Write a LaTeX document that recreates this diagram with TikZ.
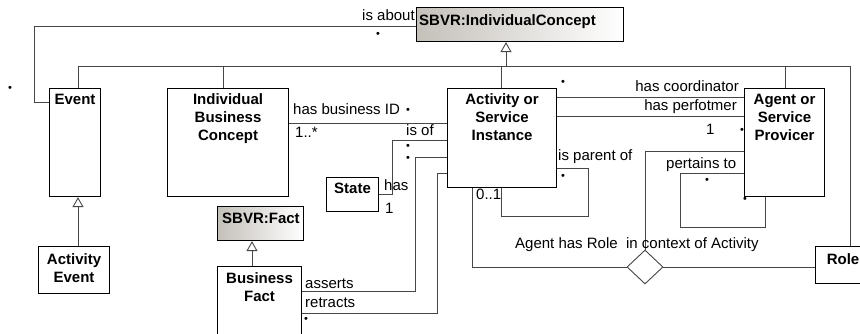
\documentclass[tikz,border=0pt]{standalone}
\usepackage{fontspec}
\setmainfont{Liberation Sans}
\usetikzlibrary{shapes.geometric,arrows.meta,calc}
\definecolor{sbvrgray}{RGB}{196,192,186}
\definecolor{lineg}{RGB}{70,70,70}
\begin{document}
\begin{tikzpicture}[x=1pt,y=-1pt,
  cls/.style={draw=black, line width=1.1pt, inner sep=0pt, anchor=north west},
  ctext/.style={font=\bfseries\fontsize{15}{18}\selectfont, align=center, inner sep=0pt, anchor=north},
  lbl/.style={font=\fontsize{15}{18}\selectfont, inner sep=0pt},
  mult/.style={font=\fontsize{11}{11}\selectfont, inner sep=0pt},
  conn/.style={draw=lineg, line width=0.9pt},
  gen/.style={conn, -{Triangle[open, length=10pt, width=11pt]}},
  grayfill/.style={left color=sbvrgray, right color=white},
  assoc/.style={draw=lineg, line width=0.9pt, diamond, fill=white, inner sep=0pt, minimum width=36pt, minimum height=34pt}]
\useasboundingbox (0,0) rectangle (860,334);

% ---- classes ----
\node[cls, grayfill, minimum width=207pt, minimum height=34pt] (sbvr) at (416,7) {};
\node[ctext, anchor=north west] (sbvrT) at ($(sbvr.north west)+(3,7)$) {SBVR:IndividualConcept};

\node[cls, minimum width=51pt, minimum height=108pt] (event) at (49,88) {};
\node[ctext] (eventT) at ($(event.north)+(0,6)$) {Event};

\node[cls, minimum width=121pt, minimum height=108pt] (ibc) at (167,88) {};
\node[ctext] (ibcT) at ($(ibc.north)+(0,5.5)$) {Individual\\Business\\Concept};

\node[cls, minimum width=109pt, minimum height=99pt] (act) at (447,88) {};
\node[ctext] (actT) at ($(act.north)+(0,5.5)$) {Activity or\\Service\\Instance};

\node[cls, minimum width=80pt, minimum height=108pt] (agent) at (744,88) {};
\node[ctext] (agentT) at ($(agent.north)+(0,6)$) {Agent or\\Service\\Provicer};

\node[cls, minimum width=55pt, minimum height=37pt] (role) at (815,246) {};
\node[ctext] (roleT) at ($(role.north)+(0,7)$) {Role};

\node[cls, minimum width=71pt, minimum height=47pt] (aevent) at (38,246) {};
\node[ctext] (aeventT) at ($(aevent.north)+(0,7)$) {Activity\\Event};

\node[cls, grayfill, minimum width=86pt, minimum height=34pt] (sfact) at (217,206) {};
\node[ctext, anchor=north west] (sfactT) at ($(sfact.north west)+(5,7)$) {SBVR:Fact};

\node[cls, minimum width=84pt, minimum height=80pt] (bf) at (217,266) {};
\node[ctext] (bfT) at ($(bf.north)+(0,6)$) {Business\\Fact};

\node[cls, minimum width=52pt, minimum height=34pt] (state) at (326,177) {};
\node[ctext] (stateT) at ($(state.north)+(0,6)$) {State};

\node[assoc] (dia) at (645,267) {};

% ---- helper coordinates ----
\coordinate (gL) at (78,66);
\coordinate (gR) at (850,66);
\coordinate (gI) at (223,66);
\coordinate (gA) at (501,66);
\coordinate (gP) at (785,66);
\coordinate (gS) at (506,66);
\coordinate (gF) at (252,0);
\coordinate (ab1) at (34,26);
\coordinate (ab2) at (34,102);
\coordinate (yBid) at (0,123);
\coordinate (yOf) at (0,140);
\coordinate (xOf) at (392,194);
\coordinate (yAs) at (0,291);
\coordinate (kAs) at (415,157);
\coordinate (yRe) at (0,313);
\coordinate (kRe) at (437,173);
\coordinate (yPa) at (0,168);
\coordinate (kPa) at (588,216);
\coordinate (xPa) at (501,0);
\coordinate (yCo) at (0,97);
\coordinate (yPe) at (0,116);
\coordinate (xD) at (472,0);
\coordinate (yDn) at (0,151);
\coordinate (yPt) at (0,173);
\coordinate (kPt) at (680,227);
\coordinate (xPt) at (765,0);

% ---- generalisations ----
\draw[conn] (gL |- event.north) -- (gL) -- (gR) -- (gR |- role.north);
\draw[conn] (gI) -- (gI |- ibc.north);
\draw[conn] (gA) -- (gA |- act.north);
\draw[conn] (gP) -- (gP |- agent.north);
\draw[gen] (gS) -- (gS |- sbvr.south);
\draw[gen] (gL |- aevent.north) -- (gL |- event.south);
\draw[gen] (gF |- bf.north) -- (gF |- sfact.south);

% ---- associations ----
\draw[conn] (sbvr.west |- ab1) -- (ab1) -- (ab2) -- (event.west |- ab2);
\draw[conn] (ibc.east |- yBid) -- (act.west |- yBid);
\draw[conn] (act.west |- yOf) -| (xOf) -- (state.east |- xOf);
\draw[conn] (bf.east |- yAs) -| (kAs) -- (act.west |- kAs);
\draw[conn] (bf.east |- yRe) -| (kRe) -- (act.west |- kRe);
\draw[conn] (act.east |- yPa) -| (kPa) -| (xPa |- act.south);
\draw[conn] (act.east |- yCo) -- (agent.west |- yCo);
\draw[conn] (act.east |- yPe) -- (agent.west |- yPe);
\draw[conn] (dia.west) -| (xD |- act.south);
\draw[conn] (dia.east) -- (role.west |- dia.east);
\draw[conn] (dia.north) |- (agent.west |- yDn);
\draw[conn] (agent.west |- yPt) -| (kPt) -| (xPt |- agent.south);

% ---- labels ----
\node[lbl, anchor=base west] (lAbout) at (362,21) {is about};
\node[mult] (mAbout) at (378,35) {•};
\node[mult] (mStray) at (10,89) {•};
\node[lbl, anchor=base west] (lBid) at (293,115) {has business ID};
\node[mult] (mBid) at (408,111) {•};
\node[lbl, anchor=base west] (lBid1) at (295,138) {1..*};
\node[lbl, anchor=base west] (lIsof) at (406,136) {is of};
\node[mult] (mOf1) at (408,147) {•};
\node[mult] (mOf2) at (408,159) {•};
\node[lbl, anchor=base west] (lHas) at (384,191) {has};
\node[lbl, anchor=base west] (lHas1) at (385,213) {1};
\node[lbl, anchor=base west] (lAs) at (305,288) {asserts};
\node[lbl, anchor=base west] (lRe) at (305,307) {retracts};
\node[mult] (mRe) at (306,320) {•};
\node[mult] (mCo) at (563,83) {•};
\node[lbl, anchor=base east] (lCoord) at (739,92) {has coordinator};
\node[lbl, anchor=base east] (lPerf) at (737,111) {has perfotmer};
\node[lbl, anchor=base west] (lP1) at (706,135) {1};
\node[mult] (mPe) at (742,131) {•};
\node[lbl, anchor=base west] (lParent) at (558,161) {is parent of};
\node[mult] (mPa) at (563,177) {•};
\node[lbl, anchor=base west] (lZero) at (476,200) {0..1};
\node[lbl, anchor=base west] (lPert) at (666,169) {pertains to};
\node[mult] (mPt1) at (707,181) {•};
\node[mult] (mPt2) at (745,200) {•};
\node[lbl, anchor=base west] (lRole) at (515,248) {Agent has Role\ \ in context of Activity};
\end{tikzpicture}
\end{document}
